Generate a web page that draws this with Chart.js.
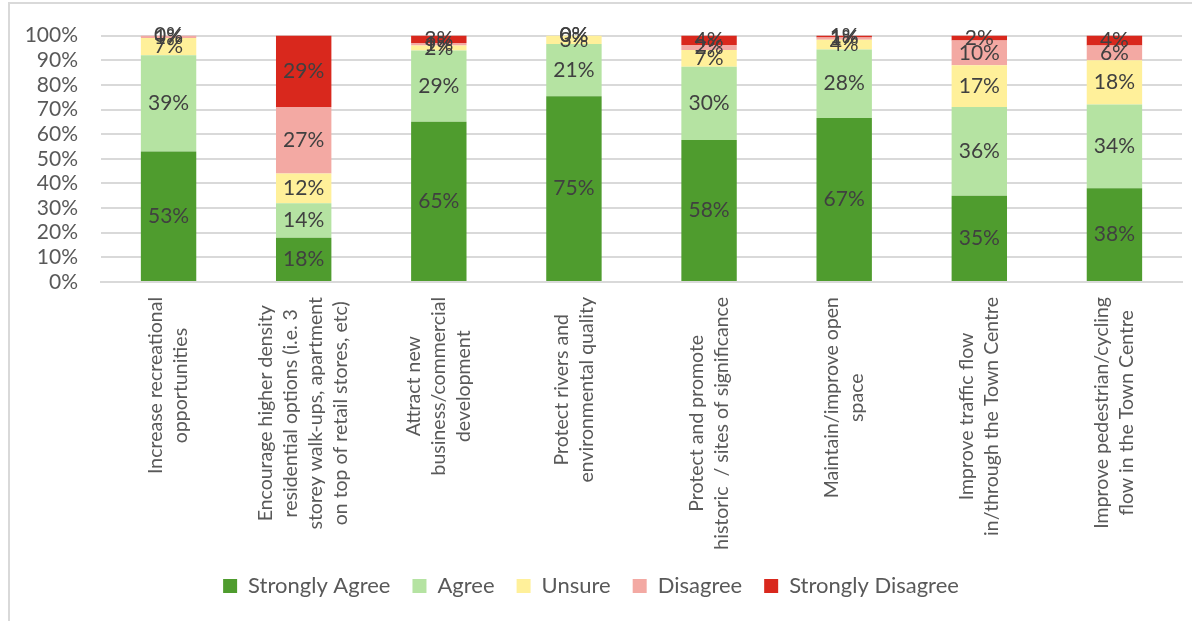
<!DOCTYPE html>
<html>
<head>
<meta charset="utf-8">
<script src="https://cdn.jsdelivr.net/npm/chart.js@4.4.1/dist/chart.umd.min.js"></script>
<style>
  body { margin: 0; background: #fff; }
  #frame { position: absolute; left: 8px; top: 2px; width: 1184px; height: 619px;
           border-left: 2px solid #d9d9d9; border-top: 2px solid #d9d9d9; }
  #myChart { position: absolute; left: 0; top: 0; }
</style>
</head>
<body>
<div id="frame"></div>
<canvas id="myChart" width="1192" height="621"></canvas>
<script>

let labels = [
    ["Increase recreational", "opportunities"],
    ["Encourage higher density", "residential options (i.e. 3", "storey walk-ups, apartment", "on top of retail stores, etc)"],
    ["Attract new", "business/commercial", "development"],
    ["Protect rivers and", "environmental quality"],
    ["Protect and promote", "historic  / sites of significance"],
    ["Maintain/improve open", "space"],
    ["Improve traffic flow", "in/through the Town Centre"],
    ["Improve pedestrian/cycling", "flow in the Town Centre"]
];

let stronglyAgree    = [53, 18, 65, 75.4, 57.6, 66.6, 35, 38];
let agree            = [39, 14, 29, 21.2, 29.8, 27.8, 36, 34];
let unsure           = [7, 12, 2, 3.4, 6.8, 3.9, 17, 18];
let disagree         = [1, 27, 1, 0, 2.0, 0.9, 10, 6];
let stronglyDisagree = [0, 29, 3, 0, 3.8, 0.8, 2, 4];

let seriesNames  = ["Strongly Agree", "Agree", "Unsure", "Disagree", "Strongly Disagree"];
let seriesColors = ["#4f9c2e", "#b5e3a2", "#fff09a", "#f3a9a3", "#d9281d"];
let yTicks = [0, 10, 20, 30, 40, 50, 60, 70, 80, 90, 100];

const FONT = "Lato";

// percent labels in the middle of each segment
const segmentLabels = {
    id: 'segmentLabels',
    afterDatasetsDraw(chart) {
        const ctx = chart.ctx;
        ctx.save();
        ctx.font = "21px " + FONT;
        ctx.fillStyle = "#404040";
        ctx.textAlign = "center";
        ctx.textBaseline = "middle";
        chart.data.datasets.forEach((ds, i) => {
            chart.getDatasetMeta(i).data.forEach((bar, j) => {
                ctx.fillText(Math.round(ds.data[j]) + "%", bar.x, (bar.y + bar.base) / 2);
            });
        });
        ctx.restore();
    }
};

// rotated, centred multi-line category labels
const categoryLabels = {
    id: 'categoryLabels',
    afterDraw(chart) {
        const ctx = chart.ctx;
        const xs = chart.scales.x;
        const top = chart.chartArea.bottom + 15;
        const lh = 25;
        ctx.save();
        ctx.font = "19.5px " + FONT;
        ctx.fillStyle = "#595959";
        ctx.textAlign = "center";
        ctx.textBaseline = "middle";
        chart.data.labels.forEach((lines, i) => {
            const w = Math.max(...lines.map(l => ctx.measureText(l).width));
            const x = xs.getPixelForValue(i);
            ctx.save();
            ctx.translate(x, top + w / 2);
            ctx.rotate(-Math.PI / 2);
            lines.forEach((l, k) => {
                ctx.fillText(l, 0, (k - (lines.length - 1) / 2) * lh);
            });
            ctx.restore();
        });
        ctx.restore();
    }
};

let values = [stronglyAgree, agree, unsure, disagree, stronglyDisagree];

let myChart = document.getElementById("myChart").getContext('2d');

let chart = new Chart(myChart, {
    type: 'bar',
    data: {
        labels: labels,
        datasets: seriesNames.map((name, i) => ({
            label: name,
            data: values[i],
            backgroundColor: seriesColors[i],
            barPercentage: 0.41,
            categoryPercentage: 1
        }))
    },
    options: {
        responsive: false,
        animation: false,
        layout: { autoPadding: false, padding: { top: 31, right: 10, left: 0, bottom: 14 } },
        plugins: {
            legend: {
                position: 'bottom',
                labels: {
                    font: { family: FONT, size: 22 },
                    color: "#595959",
                    boxWidth: 14,
                    boxHeight: 14,
                    padding: 22
                }
            },
            tooltip: { enabled: false }
        },
        scales: {
            x: {
                stacked: true,
                grid: { display: false },
                border: { color: "#d9d9d9", width: 2 },
                ticks: { display: false },
                afterFit: s => { s.height = 271; }
            },
            y: {
                stacked: true,
                min: 0,
                max: 100,
                afterBuildTicks: s => { s.ticks = yTicks.map(v => ({ value: v })); },
                afterFit: s => { s.width = 101; },
                grid: { color: "#d9d9d9", lineWidth: 2, drawTicks: false },
                border: { display: false },
                ticks: {
                    autoSkip: false,
                    padding: 23,
                    color: "#595959",
                    font: { family: FONT, size: 21 },
                    callback: v => v + "%"
                }
            }
        }
    },
    plugins: [segmentLabels, categoryLabels]
});

</script>
</body>
</html>
